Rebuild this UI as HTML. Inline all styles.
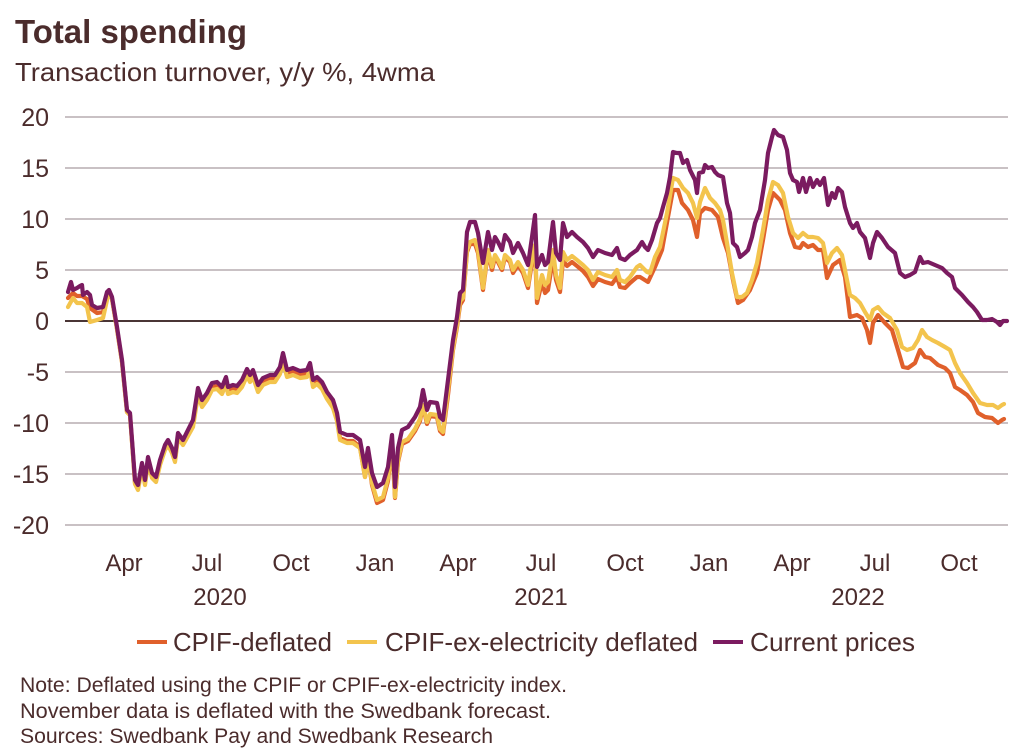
<!DOCTYPE html>
<html><head><meta charset="utf-8"><style>
html,body{margin:0;padding:0;background:#fff;}
svg{display:block;}
text{font-family:"Liberation Sans",sans-serif;fill:#4b2c2c;}
</style></head><body>
<svg width="1011" height="756" viewBox="0 0 1011 756" xmlns="http://www.w3.org/2000/svg">
<rect width="1011" height="756" fill="#fff"/>
<text x="15" y="43" font-size="33" font-weight="bold" textLength="232" lengthAdjust="spacingAndGlyphs">Total spending</text>
<text x="15" y="81" font-size="26" textLength="420" lengthAdjust="spacingAndGlyphs">Transaction turnover, y/y %, 4wma</text>
<g stroke="#a99ca1" stroke-width="1.3">
<line x1="65" x2="1008" y1="117" y2="117"/>
<line x1="65" x2="1008" y1="168" y2="168"/>
<line x1="65" x2="1008" y1="219" y2="219"/>
<line x1="65" x2="1008" y1="270" y2="270"/>
<line x1="65" x2="1008" y1="372" y2="372"/>
<line x1="65" x2="1008" y1="423" y2="423"/>
<line x1="65" x2="1008" y1="474" y2="474"/>
<line x1="65" x2="1008" y1="525" y2="525"/>
</g>
<line x1="65" x2="1008" y1="321" y2="321" stroke="#4a3535" stroke-width="2"/>
<g font-size="25" text-anchor="end">
<text x="49" y="126">20</text>
<text x="49" y="177">15</text>
<text x="49" y="228">10</text>
<text x="49" y="279">5</text>
<text x="49" y="330">0</text>
<text x="49" y="381">-5</text>
<text x="49" y="432">-10</text>
<text x="49" y="483">-15</text>
<text x="49" y="534">-20</text>
</g>
<g font-size="24" text-anchor="middle">
<text x="124" y="571">Apr</text>
<text x="207" y="571">Jul</text>
<text x="291" y="571">Oct</text>
<text x="375" y="571">Jan</text>
<text x="458" y="571">Apr</text>
<text x="541" y="571">Jul</text>
<text x="625" y="571">Oct</text>
<text x="709" y="571">Jan</text>
<text x="792" y="571">Apr</text>
<text x="875" y="571">Jul</text>
<text x="959" y="571">Oct</text>
<text x="220" y="605">2020</text>
<text x="541" y="605">2021</text>
<text x="858" y="605">2022</text>
</g>
<g fill="none" stroke-width="4.2" stroke-linejoin="round" stroke-linecap="round">
<polyline stroke="#e0602b" points="68,298 73,293 77,296 82,296 87,299 90,308 97,313 103,312 107,296 109,291 112,299 117,329 122,362 127,412 130,415 133,455 135,483 138,488 142,466 145,483 148,460 152,476 156,480 160,463 165,448 168,443 172,451 175,460 178,436 183,443 188,434 193,424 198,392 202,404 207,397 212,387 217,386 222,391 226,381 228,391 233,389 237,390 242,384 247,373 250,379 253,374 258,389 263,382 270,379 275,379 280,371 283,358 287,374 293,372 300,375 307,374 310,367 313,384 317,381 322,386 327,397 333,406 337,419 340,438 347,441 353,441 360,447 365,477 368,456 372,485 377,503 383,500 388,481 392,445 395,498 398,462 402,444 408,441 415,431 420,421 423,406 427,424 430,416 437,417 440,431 443,434 448,395 453,350 457,327 460,305 463,300 467,252 470,244 475,244 478,253 483,290 488,252 492,270 495,257 498,262 502,270 505,257 510,262 513,273 518,265 523,273 528,288 532,262 535,250 537,303 542,282 545,293 548,290 553,258 556,280 560,292 563,260 567,266 572,262 577,266 583,271 588,277 593,286 598,279 605,282 612,284 617,277 620,287 625,288 630,283 637,277 640,277 648,282 655,267 662,250 668,217 673,190 678,190 682,203 688,210 693,220 697,237 700,213 705,208 712,210 718,217 723,238 728,253 733,280 738,303 743,300 750,290 757,273 763,240 768,210 773,193 780,200 785,210 790,233 795,247 800,248 803,243 808,247 813,245 818,250 823,250 827,278 833,265 840,260 845,277 850,317 857,315 862,318 867,330 870,343 873,323 878,315 885,323 892,330 898,350 903,367 908,368 915,363 920,350 925,357 930,358 938,365 945,368 950,373 955,387 960,390 967,395 973,402 978,413 985,417 992,418 998,423 1002,420 1004,419"/>
<polyline stroke="#f3c44d" points="68,307 73,298 77,303 82,303 87,307 90,322 97,320 103,318 107,300 109,292 112,299 117,329 122,362 127,412 130,415 133,456 135,484 138,490 142,468 145,485 148,462 152,478 156,482 160,465 165,450 168,445 172,453 175,462 178,438 183,445 188,436 193,427 198,395 202,407 207,400 212,390 217,389 222,394 226,384 228,394 233,392 237,393 242,387 247,376 250,382 253,377 258,392 263,385 270,382 275,382 280,374 283,362 287,377 293,375 300,378 307,377 310,370 313,387 317,384 322,389 327,399 333,408 337,421 340,440 347,443 353,443 360,448 365,477 368,456 372,483 377,500 383,497 388,478 392,443 395,497 398,460 402,442 408,439 415,429 420,419 423,405 427,422 430,414 437,415 440,429 443,432 448,390 453,348 457,325 460,301 463,298 467,250 470,242 475,240 478,250 483,288 488,250 492,267 495,255 498,260 502,268 505,255 510,260 513,270 518,262 523,270 528,285 532,258 535,245 537,298 542,275 545,285 548,282 553,250 556,275 560,288 563,252 567,260 572,256 577,260 583,265 588,270 593,280 598,272 605,275 612,277 617,270 620,280 625,282 630,277 637,267 640,265 647,272 650,273 655,257 660,247 667,213 673,178 678,180 683,188 688,193 693,203 697,218 700,202 705,188 710,198 715,203 720,210 723,220 727,243 732,273 737,297 742,297 747,293 752,280 757,263 763,230 768,200 773,182 778,185 783,193 788,217 793,233 798,238 803,233 808,237 813,237 818,238 823,243 827,263 832,253 837,248 842,255 845,270 850,295 855,298 860,303 865,312 870,320 873,310 878,307 883,313 890,318 897,330 902,347 907,350 913,348 918,340 922,330 927,337 932,340 938,343 945,347 950,350 955,363 960,373 967,383 973,393 980,403 987,405 993,405 998,408 1002,405 1004,404"/>
<polyline stroke="#7b1b60" points="68,292 71,282 73,290 77,288 80,286 82,285 83,295 87,292 90,295 92,305 97,308 103,307 107,292 109,290 112,297 117,327 122,360 127,410 130,413 133,453 135,480 138,485 142,463 145,480 148,457 152,473 156,477 160,460 165,445 168,440 172,448 175,457 178,433 183,440 188,430 193,420 198,388 202,400 207,393 212,383 217,382 222,387 226,377 228,387 233,385 237,386 242,380 247,369 250,375 253,370 258,385 263,378 270,375 275,375 280,367 283,353 287,370 293,368 300,371 307,370 310,363 313,380 317,377 322,382 327,392 333,400 337,413 340,432 347,435 353,435 360,440 365,467 368,448 372,473 377,487 383,483 388,467 392,435 395,487 398,448 402,430 408,427 415,417 420,407 423,390 427,410 430,402 437,403 440,417 443,420 448,380 453,340 457,317 460,293 463,290 467,232 470,222 475,222 478,233 483,263 488,232 492,250 495,237 498,242 502,250 505,235 510,242 513,253 518,243 523,253 528,265 532,237 535,215 537,267 542,255 545,265 548,262 553,222 556,253 560,260 563,223 567,237 572,232 577,237 583,242 588,248 593,257 598,250 605,253 612,255 617,248 620,258 625,260 630,255 637,250 642,242 645,247 648,250 652,240 657,223 660,218 663,207 667,193 670,177 673,152 677,153 680,153 683,163 687,160 690,170 695,180 697,193 699,173 703,172 705,165 708,168 712,167 715,172 718,175 723,177 727,203 730,213 733,243 737,247 740,257 745,253 748,250 752,237 755,223 760,210 765,180 768,153 772,137 774,130 778,135 783,137 787,150 790,173 793,180 797,182 799,192 803,178 806,192 810,178 813,187 817,180 820,185 824,178 828,205 832,193 835,198 838,188 842,192 845,207 850,223 853,228 857,223 860,232 865,238 870,258 873,243 877,232 882,238 888,247 895,253 900,273 905,277 910,275 915,272 920,257 923,263 928,262 935,265 942,268 947,273 952,277 955,288 962,295 968,302 973,307 977,312 982,320 987,320 992,319 997,322 1000,325 1003,321 1007,321"/>
</g>
<g stroke-width="4">
<line x1="137" x2="167" y1="642" y2="642" stroke="#e0602b"/>
<line x1="347" x2="377" y1="642" y2="642" stroke="#f3c44d"/>
<line x1="713" x2="743" y1="642" y2="642" stroke="#7b1b60"/>
</g>
<g font-size="26">
<text x="173" y="651" textLength="159" lengthAdjust="spacingAndGlyphs">CPIF-deflated</text>
<text x="385" y="651" textLength="313" lengthAdjust="spacingAndGlyphs">CPIF-ex-electricity deflated</text>
<text x="750" y="651" textLength="165" lengthAdjust="spacingAndGlyphs">Current prices</text>
</g>
<g font-size="21">
<text x="20" y="692" textLength="547" lengthAdjust="spacingAndGlyphs">Note: Deflated using the CPIF or CPIF-ex-electricity index.</text>
<text x="20" y="718" textLength="531" lengthAdjust="spacingAndGlyphs">November data is deflated with the Swedbank forecast.</text>
<text x="20" y="743" textLength="473" lengthAdjust="spacingAndGlyphs">Sources: Swedbank Pay and Swedbank Research</text>
</g>
</svg>
</body></html>
